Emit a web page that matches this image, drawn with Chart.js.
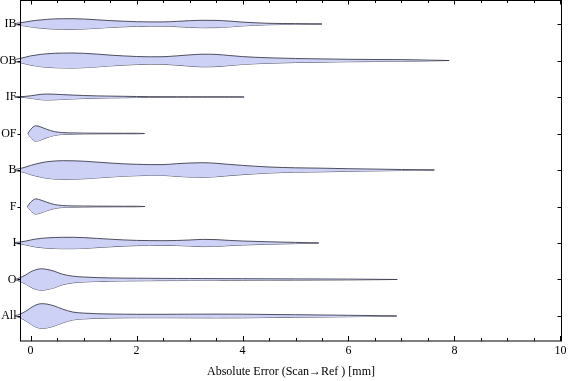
<!DOCTYPE html>
<html><head><meta charset="utf-8">
<script src="https://cdn.jsdelivr.net/npm/chart.js@4/dist/chart.umd.min.js"></script>
<style>html,body{margin:0;padding:0;background:#fff}</style>
</head><body>
<canvas id="c" width="576" height="381"></canvas>
<script>
// categories from bottom (1) to top (9)
const categories = ['All','O','I','F','B','OF','IF','OB','IB'];
// common grid of absolute error values (mm) where densities are sampled
const xGrid = [-0.3,-0.1,0,0.1,0.2,0.3,0.45,0.6,0.8,1.0,1.25,1.5,1.75,2.0,2.25,2.5,2.75,3.0,3.25,3.5,3.75,4.0,4.5,5.0,5.5,6.0,6.5,7.0,7.5];
// smoothed density (violin half-width, arbitrary units) per category
const densIB  = [0.5,2.0,2.9,3.6,4.1,4.6,5.1,5.3,5.3,5.0,4.2,3.4,2.8,2.3,2.1,2.1,2.6,3.3,3.7,3.6,2.9,1.9,0.7,0.4,null,null,null,null,null];
const densOB  = [1.0,3.3,4.6,5.4,6.2,6.7,7.2,7.4,7.5,7.2,6.4,5.4,4.6,4.0,3.7,3.8,4.6,5.6,6.3,6.1,5.0,3.9,2.7,2.0,1.6,1.2,1.0,0.9,0.4];
const densIF  = [0.2,0.6,1.2,2.0,2.7,3.0,2.8,2.4,1.9,1.5,1.1,0.9,0.7,0.5,0.35,0.3,0.25,0.25,0.25,0.25,0.25,0.2,null,null,null,null,null,null,null];
const densOF  = [null,null,4.0,7.7,6.4,4.3,1.9,0.9,0.6,0.4,0.3,0.25,0.25,0.25,null,null,null,null,null,null,null,null,null,null,null,null,null,null,null];
const densB   = [0.5,2.8,4.6,6.0,7.2,8.2,9.0,9.3,9.2,8.8,7.9,7.0,6.2,5.7,5.4,5.4,6.3,7.0,7.3,6.7,5.6,4.6,3.0,2.2,1.8,1.3,0.9,0.5,0.2];
const densF   = [null,null,4.2,7.6,6.3,4.4,2.0,1.0,0.6,0.5,0.35,0.3,0.25,0.25,null,null,null,null,null,null,null,null,null,null,null,null,null,null,null];
const densI   = [0.4,1.8,3.0,4.0,4.6,5.1,5.5,5.7,5.7,5.4,4.6,3.8,3.1,2.6,2.4,2.3,2.5,3.0,3.6,3.4,2.6,2.0,1.2,0.6,null,null,null,null,null];
const densO   = [0.3,4.3,7.6,9.8,10.7,10.2,8.2,5.3,3.3,2.5,1.9,1.6,1.4,1.3,1.2,1.1,1.05,1.0,0.95,0.9,0.85,0.8,0.7,0.6,0.5,0.4,0.2,null,null];
const densAll = [0.3,4.5,8.0,11.0,12.3,12.0,10.0,7.0,3.9,2.9,2.3,2.0,1.8,1.7,1.7,1.7,1.75,1.8,1.85,1.9,1.85,1.8,1.5,1.3,1.0,0.7,0.4,null,null];
// extent of each violin (bottom to top order, same as categories)
const minErr = [-0.53,-0.46,-0.57,-0.06,-0.57,-0.05,-0.46,-0.57,-0.57];
const maxErr = [6.91,6.92,5.44,2.16,7.62,2.15,4.03,7.9,5.5];
const xTickValues = [0,2,4,6,8,10];
const xMinorStep = 0.5;
const xTitle = 'Absolute Error (Scan\u2192Ref ) [mm]';

const densities = [densAll,densO,densI,densF,densB,densOF,densIF,densOB,densIB];
const WSCALE = 1/36.5;
const FILL = 'rgb(204,209,245)';
const EDGE = 'rgba(62,62,78,0.9)';
const FONT = {family:'"Liberation Serif", "Times New Roman", serif', size:12};

const datasets = [];
categories.forEach((c,i)=>{
  const pos = i+1, d = densities[i];
  const up = [{x:minErr[i],y:pos}], lo = [{x:minErr[i],y:pos}];
  xGrid.forEach((x,k)=>{
    if (d[k]==null || x<=minErr[i] || x>=maxErr[i]) return;
    up.push({x, y:pos + d[k]*WSCALE});
    lo.push({x, y:pos - d[k]*WSCALE});
  });
  up.push({x:maxErr[i],y:pos}); lo.push({x:maxErr[i],y:pos});
  const common = {borderColor:EDGE,borderWidth:1,pointRadius:0,cubicInterpolationMode:'monotone',clip:false};
  datasets.push(Object.assign({label:c+' upper',data:up,fill:'+1',backgroundColor:FILL},common));
  datasets.push(Object.assign({label:c+' lower',data:lo,fill:false,backgroundColor:FILL},common));
});

const frameTicks = {
  id:'frameTicks',
  afterDraw(chart){
    const {ctx, chartArea:a, scales:{x,y}} = chart;
    ctx.save();
    ctx.strokeStyle = '#000'; ctx.lineWidth = 1;
    ctx.strokeRect(a.left, a.top, a.right-a.left, a.bottom-a.top);
    ctx.beginPath();
    for (let k=Math.ceil(x.min/xMinorStep); k*xMinorStep<=x.max; k++){
      const v = k*xMinorStep;
      const px = Math.round(x.getPixelForValue(v))+0.5;
      const major = xTickValues.includes(v);
      const lb = major?5:3, lt = major?4:2.5;
      ctx.moveTo(px,a.bottom); ctx.lineTo(px,a.bottom-lb);
      ctx.moveTo(px,a.top); ctx.lineTo(px,a.top+lt);
    }
    categories.forEach((c,i)=>{
      const py = Math.round(y.getPixelForValue(i+1))+0.5;
      ctx.moveTo(a.left,py); ctx.lineTo(a.left-3,py);
      ctx.moveTo(a.right,py); ctx.lineTo(a.right-4,py);
    });
    ctx.stroke();
    ctx.restore();
  }
};

new Chart(document.getElementById('c'),{
  type:'line',
  data:{datasets},
  options:{
    responsive:false, animation:false, devicePixelRatio:1,
    layout:{padding:{left:0,right:14.5,top:0.5,bottom:0}},
    plugins:{legend:{display:false},tooltip:{enabled:false},filler:{propagate:false}},
    scales:{
      x:{type:'linear',min:-0.19,max:10.02,
        afterBuildTicks:s=>{s.ticks = xTickValues.map(v=>({value:v}));},
        afterFit:s=>{s.height=40; s.paddingLeft=0; s.paddingRight=0;},
        grid:{display:false,drawTicks:false},border:{display:false},
        ticks:{font:FONT,color:'#000',padding:3,maxRotation:0,autoSkip:false},
        title:{display:true,text:xTitle,font:FONT,color:'#000',padding:{top:0,bottom:2}}},
      y:{type:'linear',min:0.315,max:9.644,
        afterBuildTicks:s=>{s.ticks = categories.map((c,i)=>({value:i+1}));},
        afterFit:s=>{s.width=20.5; s.paddingTop=0; s.paddingBottom=0;},
        grid:{display:false,drawTicks:false},border:{display:false},
        ticks:{font:FONT,color:'#000',padding:4,autoSkip:false,callback:v=>categories[v-1]}}
    }
  },
  plugins:[frameTicks]
});
</script>
</body></html>
